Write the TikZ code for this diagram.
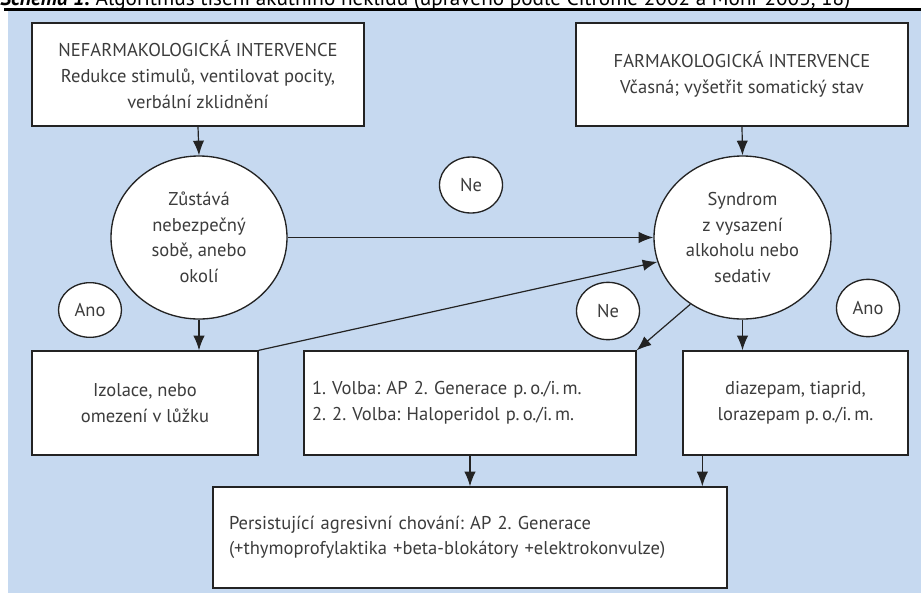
\documentclass[tikz,border=0pt]{standalone}
\usepackage{fontspec}
\setmainfont{PT Sans}
\usetikzlibrary{arrows.meta,shapes.geometric,calc}
\definecolor{bgblue}{RGB}{198,217,240}
\definecolor{txt}{RGB}{60,60,60}
\definecolor{ln}{RGB}{35,35,35}
\frenchspacing
\begin{document}
\begin{tikzpicture}[x=0.75pt,y=-0.75pt,
  every node/.style={font=\fontsize{13.9}{19.2}\selectfont\frenchspacing, text=txt},
  box/.style={draw=ln, line width=1pt, fill=white, align=center, inner sep=0pt},
  circ/.style={ellipse, draw=ln, line width=1pt, fill=white, align=center, inner sep=0pt},
  arr/.style={draw=ln, line width=0.9pt, -{Latex[length=11pt,width=8.5pt]}},
]
\useasboundingbox (0,0) rectangle (921,593);
\clip (0,0) rectangle (921,593);
\fill[bgblue] (8,10.5) rectangle (921,593);
\draw[line width=1.6pt, black] (4,9.5) -- (921,9.5);
\node[anchor=base west, text=black, inner sep=0pt, font=\fontsize{15.9}{20}\selectfont\frenchspacing] (cap) at (0,5.5) {{\bfseries\itshape Schéma 1.} Algoritmus tišení akutního neklidu (upraveno podle Citrome 2002 a Mohr 2003, 18)};

\node[box, minimum width=249pt, minimum height=77.25pt] (b1) at (198,74.5)
  {NEFARMAKOLOGICKÁ INTERVENCE\\Redukce stimulů, ventilovat pocity,\\verbální zklidnění};
\node[box, minimum width=249pt, minimum height=77.25pt] (b2) at (742,74.5)
  {FARMAKOLOGICKÁ INTERVENCE\\Včasná; vyšetřit somatický stav};

\node[circ, minimum width=132pt, minimum height=122.25pt] (c1) at (199,237.5)
  {Zůstává\\nebezpečný\\sobě, anebo\\okolí};
\node[circ, minimum width=132.75pt, minimum height=122.25pt] (c2) at (742.5,237.5)
  {Syndrom\\z vysazení\\alkoholu nebo\\sedativ};

\node[circ, minimum width=47.25pt, minimum height=42pt] (ne1) at (471,185) {Ne};
\node[circ, minimum width=47.25pt, minimum height=41pt] (ano1) at (90,310) {Ano};
\node[circ, minimum width=47.25pt, minimum height=43pt] (ne2) at (608,311) {Ne};
\node[circ, minimum width=47.25pt, minimum height=43pt] (ano2) at (868,308) {Ano};

\node[box, minimum width=169.5pt, minimum height=78pt] (iz) at (145,403)
  {Izolace, nebo\\omezení v lůžku};
\node[box, align=left, text width=237pt, minimum width=249pt, minimum height=78pt] (mid) at (470,403)
  {1. Volba: AP 2. Generace p.\,o./i.\,m.\\2. 2. Volba: Haloperidol p.\,o./i.\,m.};
\node[box, minimum width=168.75pt, minimum height=78pt] (dz) at (795.5,403)
  {diazepam, tiaprid,\\lorazepam p.\,o./i.\,m.};
\node[box, align=left, text width=361.5pt, minimum width=385.5pt, minimum height=75.75pt] (bt) at (470,537.5)
  {Persistující agresivní chování: AP 2. Generace\\(+thymoprofylaktika +beta-blokátory +elektrokonvulze)};

\draw[arr] (b1.south) -- (c1.north);
\draw[arr] (b2.south) -- (c2.north);
\draw[arr] (c1.east) -- (c2.west);
\draw[arr] (iz.north east) -- (c2.196);
\draw[arr] (c2.232) -- (mid.north east);
\draw[arr] (c1.south) -- (c1.south |- iz.north);
\draw[arr] (c2.south) -- (c2.south |- dz.north);
\draw[arr] (mid.south) -- (bt.north);
\coordinate (d1) at ($(dz.south west)+(20,0)$);
\draw[arr] (d1) -- (d1 |- bt.north);
\end{tikzpicture}
\end{document}
